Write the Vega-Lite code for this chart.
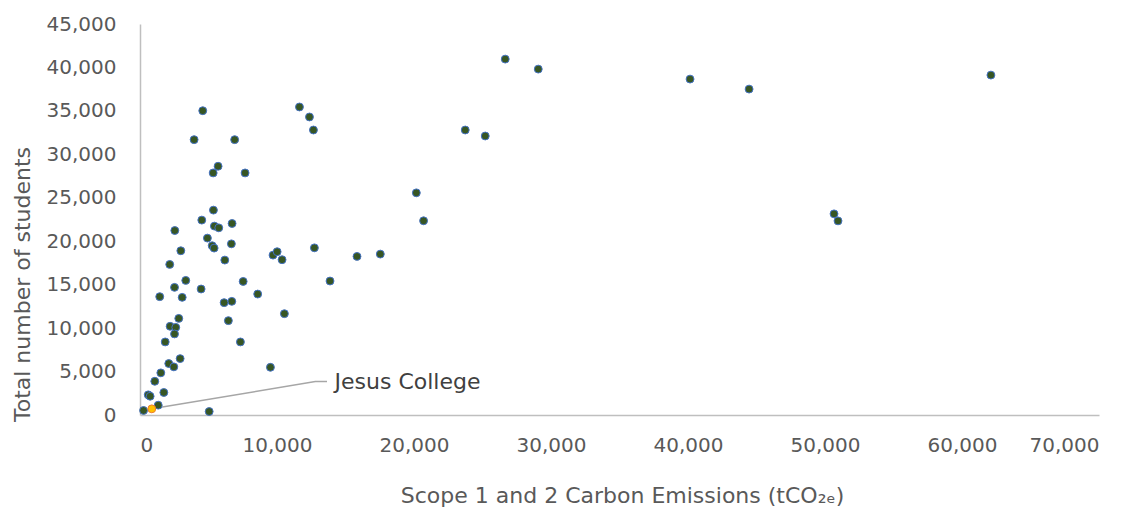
{
  "$schema": "https://vega.github.io/schema/vega-lite/v6.json",
  "width": 959,
  "height": 391,
  "autosize": {"type": "none"},
  "padding": {"left": 140, "top": 24, "right": 39, "bottom": 103},
  "background": "white",
  "config": {
    "view": {"stroke": null},
    "font": "DejaVu Sans",
    "axis": {
      "grid": false,
      "ticks": false,
      "tickSize": 0,
      "domainColor": "#BFBFBF",
      "domainWidth": 1.5,
      "labelColor": "#595959",
      "labelFont": "DejaVu Sans",
      "labelFontSize": 20,
      "titleColor": "#595959",
      "titleFont": "DejaVu Sans",
      "titleFontSize": 22,
      "titleFontWeight": "normal"
    }
  },
  "datasets": {
    "universities": [
      {"emissions": 26660, "students": 40960, "group": "Other"},
      {"emissions": 29070, "students": 39810, "group": "Other"},
      {"emissions": 40150, "students": 38660, "group": "Other"},
      {"emissions": 44460, "students": 37510, "group": "Other"},
      {"emissions": 62110, "students": 39120, "group": "Other"},
      {"emissions": 50660, "students": 23150, "group": "Other"},
      {"emissions": 50950, "students": 22340, "group": "Other"},
      {"emissions": 23740, "students": 32800, "group": "Other"},
      {"emissions": 25200, "students": 32110, "group": "Other"},
      {"emissions": 20170, "students": 25570, "group": "Other"},
      {"emissions": 20700, "students": 22350, "group": "Other"},
      {"emissions": 11640, "students": 35450, "group": "Other"},
      {"emissions": 12370, "students": 34300, "group": "Other"},
      {"emissions": 12660, "students": 32800, "group": "Other"},
      {"emissions": 12730, "students": 19240, "group": "Other"},
      {"emissions": 13870, "students": 15420, "group": "Other"},
      {"emissions": 15840, "students": 18250, "group": "Other"},
      {"emissions": 17540, "students": 18520, "group": "Other"},
      {"emissions": 10540, "students": 11660, "group": "Other"},
      {"emissions": 9520, "students": 5490, "group": "Other"},
      {"emissions": 9710, "students": 18400, "group": "Other"},
      {"emissions": 10010, "students": 18790, "group": "Other"},
      {"emissions": 10370, "students": 17870, "group": "Other"},
      {"emissions": 6910, "students": 31690, "group": "Other"},
      {"emissions": 7670, "students": 27860, "group": "Other"},
      {"emissions": 6720, "students": 22040, "group": "Other"},
      {"emissions": 6670, "students": 19700, "group": "Other"},
      {"emissions": 7530, "students": 15370, "group": "Other"},
      {"emissions": 8590, "students": 13920, "group": "Other"},
      {"emissions": 6700, "students": 13080, "group": "Other"},
      {"emissions": 6450, "students": 10860, "group": "Other"},
      {"emissions": 7330, "students": 8410, "group": "Other"},
      {"emissions": 4580, "students": 35020, "group": "Other"},
      {"emissions": 3950, "students": 31690, "group": "Other"},
      {"emissions": 5700, "students": 28630, "group": "Other"},
      {"emissions": 5340, "students": 27860, "group": "Other"},
      {"emissions": 5360, "students": 23580, "group": "Other"},
      {"emissions": 4510, "students": 22430, "group": "Other"},
      {"emissions": 5430, "students": 21740, "group": "Other"},
      {"emissions": 5750, "students": 21540, "group": "Other"},
      {"emissions": 2540, "students": 21230, "group": "Other"},
      {"emissions": 4920, "students": 20360, "group": "Other"},
      {"emissions": 5270, "students": 19480, "group": "Other"},
      {"emissions": 5410, "students": 19210, "group": "Other"},
      {"emissions": 2980, "students": 18900, "group": "Other"},
      {"emissions": 2170, "students": 17330, "group": "Other"},
      {"emissions": 6190, "students": 17830, "group": "Other"},
      {"emissions": 3340, "students": 15490, "group": "Other"},
      {"emissions": 2520, "students": 14690, "group": "Other"},
      {"emissions": 4460, "students": 14500, "group": "Other"},
      {"emissions": 1440, "students": 13620, "group": "Other"},
      {"emissions": 3080, "students": 13540, "group": "Other"},
      {"emissions": 6140, "students": 12930, "group": "Other"},
      {"emissions": 2830, "students": 11120, "group": "Other"},
      {"emissions": 2200, "students": 10210, "group": "Other"},
      {"emissions": 2610, "students": 10090, "group": "Other"},
      {"emissions": 2520, "students": 9330, "group": "Other"},
      {"emissions": 1840, "students": 8410, "group": "Other"},
      {"emissions": 2930, "students": 6490, "group": "Other"},
      {"emissions": 2100, "students": 5920, "group": "Other"},
      {"emissions": 2470, "students": 5540, "group": "Other"},
      {"emissions": 1520, "students": 4850, "group": "Other"},
      {"emissions": 1080, "students": 3880, "group": "Other"},
      {"emissions": 600, "students": 2320, "group": "Other"},
      {"emissions": 740, "students": 2160, "group": "Other"},
      {"emissions": 1740, "students": 2590, "group": "Other"},
      {"emissions": 1330, "students": 1130, "group": "Other"},
      {"emissions": 260, "students": 520, "group": "Other"},
      {"emissions": 5050, "students": 400, "group": "Other"},
      {"emissions": 860, "students": 710, "group": "Jesus College"}
    ],
    "leader": [
      {"emissions": 860, "students": 710, "order": 1},
      {"emissions": 12800, "students": 3850, "order": 2},
      {"emissions": 13650, "students": 3850, "order": 3}
    ],
    "label": [
      {"emissions": 14200, "students": 3850, "text": "Jesus College"}
    ]
  },
  "layer": [
    {
      "data": {"name": "leader"},
      "mark": {"type": "line", "color": "#A6A6A6", "strokeWidth": 1.5},
      "encoding": {
        "x": {"field": "emissions", "type": "quantitative", "scale": {"domain": [0, 70000], "nice": false},
          "axis": {"values": [0, 10000, 20000, 30000, 40000, 50000, 60000, 70000], "format": ",.0f", "labelBaseline": "middle", "labelPadding": 30,
            "title": "Scope 1 and 2 Carbon Emissions (tCO₂ₑ)", "titleY": 80, "titleBaseline": "middle", "titleX": 482}},
        "y": {"field": "students", "type": "quantitative", "scale": {"domain": [0, 45000], "nice": false},
          "axis": {"values": [0, 5000, 10000, 15000, 20000, 25000, 30000, 35000, 40000, 45000], "format": ",.0f", "labelPadding": 24, "labelBaseline": "middle",
            "title": "Total number of students", "titleX": -118, "titleY": 260, "titleAngle": -90, "titleBaseline": "middle", "titleAlign": "center"}},
        "order": {"field": "order", "type": "quantitative"}
      }
    },
    {
      "data": {"name": "universities"},
      "mark": {"type": "point", "filled": true, "size": 62, "strokeWidth": 1, "opacity": 1},
      "encoding": {
        "x": {"field": "emissions", "type": "quantitative"},
        "y": {"field": "students", "type": "quantitative"},
        "fill": {"field": "group", "type": "nominal", "scale": {"domain": ["Other", "Jesus College"], "range": ["#375623", "#FFC000"]}, "legend": null},
        "stroke": {"field": "group", "type": "nominal", "scale": {"domain": ["Other", "Jesus College"], "range": ["#4472C4", "#ED7D31"]}, "legend": null}
      }
    },
    {
      "data": {"name": "label"},
      "mark": {"type": "text", "align": "left", "baseline": "middle", "fontSize": 22, "color": "#404040", "font": "DejaVu Sans"},
      "encoding": {
        "x": {"field": "emissions", "type": "quantitative"},
        "y": {"field": "students", "type": "quantitative"},
        "text": {"field": "text"}
      }
    }
  ]
}
